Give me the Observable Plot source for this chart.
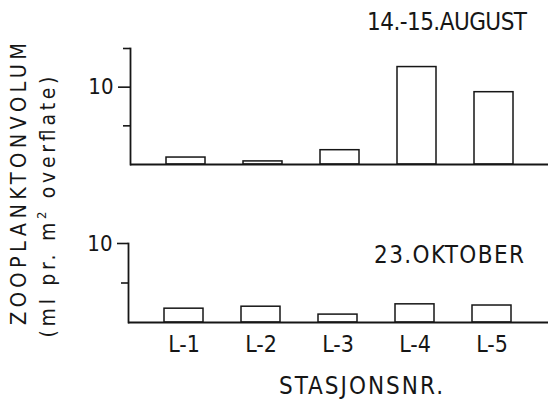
<!DOCTYPE html>
<html>
<head>
<meta charset="utf-8">
<script src="https://cdn.jsdelivr.net/npm/d3@7"></script>
<script src="https://cdn.jsdelivr.net/npm/@observablehq/plot@0.6"></script>
<style>
  html, body { margin: 0; padding: 0; background: #fff; }
  #chart { position: relative; width: 548px; height: 400px; overflow: hidden; }
  #chart > svg { position: absolute; left: 0; }
  .lbl { font-family: "Liberation Sans Narrow", "DejaVu Sans Condensed", "Liberation Sans", sans-serif; fill: #161616; }
</style>
</head>
<body>
<div id="chart"></div>
<script>
// ---- data ----
const stations = ["L-1", "L-2", "L-3", "L-4", "L-5"];
const august = [0.9, 0.4, 1.85, 12.6, 9.35];
const oktober = [1.75, 2.0, 1.0, 2.3, 2.15];
const panelTitles = ["14.-15.AUGUST", "23.OKTOBER"];
const yLabelLine1 = "ZOOPLANKTONVOLUM";
const yLabelLine2 = ["(ml pr. m", "2", " overflate)"];
const xLabel = "STASJONSNR.";
const labeledTicks = [10];
const minorTicksAug = [5, 15];
const minorTicksOkt = [5];

const FONT = '"Liberation Sans Narrow", "DejaVu Sans Condensed", "Liberation Sans", sans-serif';
const INK = "#161616";
const chart = document.getElementById("chart");

function panel(values, opts) {
  const rows = stations.map((s, i) => ({station: s, value: values[i]}));
  return Plot.plot({
    width: 548,
    height: 200,
    marginLeft: opts.axisX,
    marginRight: 0,
    marginTop: opts.marginTop,
    marginBottom: opts.marginBottom,
    style: {fontFamily: FONT, fontSize: "22px", color: INK, background: "transparent"},
    x: {domain: stations, range: opts.xRange, padding: 0.5, axis: null},
    y: {domain: opts.yDomain, axis: null},
    marks: [
      Plot.barY(rows, {x: "station", y: "value", fill: "white", stroke: INK, strokeWidth: 1.5}),
      Plot.ruleY([0], {stroke: INK, strokeWidth: 2}),
      Plot.frame({anchor: "left", stroke: INK, strokeWidth: 1.8}),
      Plot.axisY(labeledTicks, {tickSize: opts.majorTick, tickPadding: 5, fontSize: 22, stroke: INK, strokeWidth: 1.6, fill: INK, label: null}),
      Plot.axisY(opts.minorTicks, {tickSize: 7, stroke: INK, strokeWidth: 1.6, fill: "none", label: null}),
      ...(opts.xAxis ? [Plot.axisX({tickSize: 0, tickPadding: 13, fontSize: 23, fill: INK, label: null, style: {letterSpacing: "2px"}})] : [])
    ]
  });
}

const topPanel = panel(august, {axisX: 130, marginTop: 48, marginBottom: 36, xRange: [127.5, 551], yDomain: [0, 15], majorTick: 12, minorTicks: minorTicksAug, xAxis: false});
topPanel.style.top = "0px";
chart.appendChild(topPanel);

const bottomPanel = panel(oktober, {axisX: 128, marginTop: 43, marginBottom: 78, xRange: [125.5, 549], yDomain: [0, 10], majorTick: 11, minorTicks: minorTicksOkt, xAxis: true});
bottomPanel.style.top = "200px";
chart.appendChild(bottomPanel);

// ---- overlay texts ----
const ov = d3.select(chart).append("svg")
  .attr("width", 548).attr("height", 400)
  .style("top", "0px").style("pointer-events", "none");

ov.append("text").attr("class", "lbl")
  .attr("x", 527).attr("y", 29.5).attr("text-anchor", "end")
  .attr("font-size", 24).attr("textLength", 160).attr("lengthAdjust", "spacing")
  .text(panelTitles[0]);

ov.append("text").attr("class", "lbl")
  .attr("x", 524).attr("y", 263).attr("text-anchor", "end")
  .attr("font-size", 24).attr("textLength", 150).attr("lengthAdjust", "spacing")
  .text(panelTitles[1]);

ov.append("text").attr("class", "lbl")
  .attr("x", 279).attr("y", 394)
  .attr("font-size", 24).attr("textLength", 164).attr("lengthAdjust", "spacing")
  .text(xLabel);

ov.append("text").attr("class", "lbl")
  .attr("transform", "translate(26,184) rotate(-90)")
  .attr("text-anchor", "middle")
  .attr("font-size", 21.5).attr("textLength", 282).attr("lengthAdjust", "spacing")
  .text(yLabelLine1);

const l2 = ov.append("text").attr("class", "lbl")
  .attr("transform", "translate(55,207) rotate(-90)")
  .attr("text-anchor", "middle")
  .attr("font-size", 21).attr("textLength", 261).attr("lengthAdjust", "spacing");
l2.append("tspan").text(yLabelLine2[0]);
l2.append("tspan").attr("dy", -9).attr("font-size", 13).text(yLabelLine2[1]);
l2.append("tspan").attr("dy", 9).text(yLabelLine2[2]);
</script>
</body>
</html>
